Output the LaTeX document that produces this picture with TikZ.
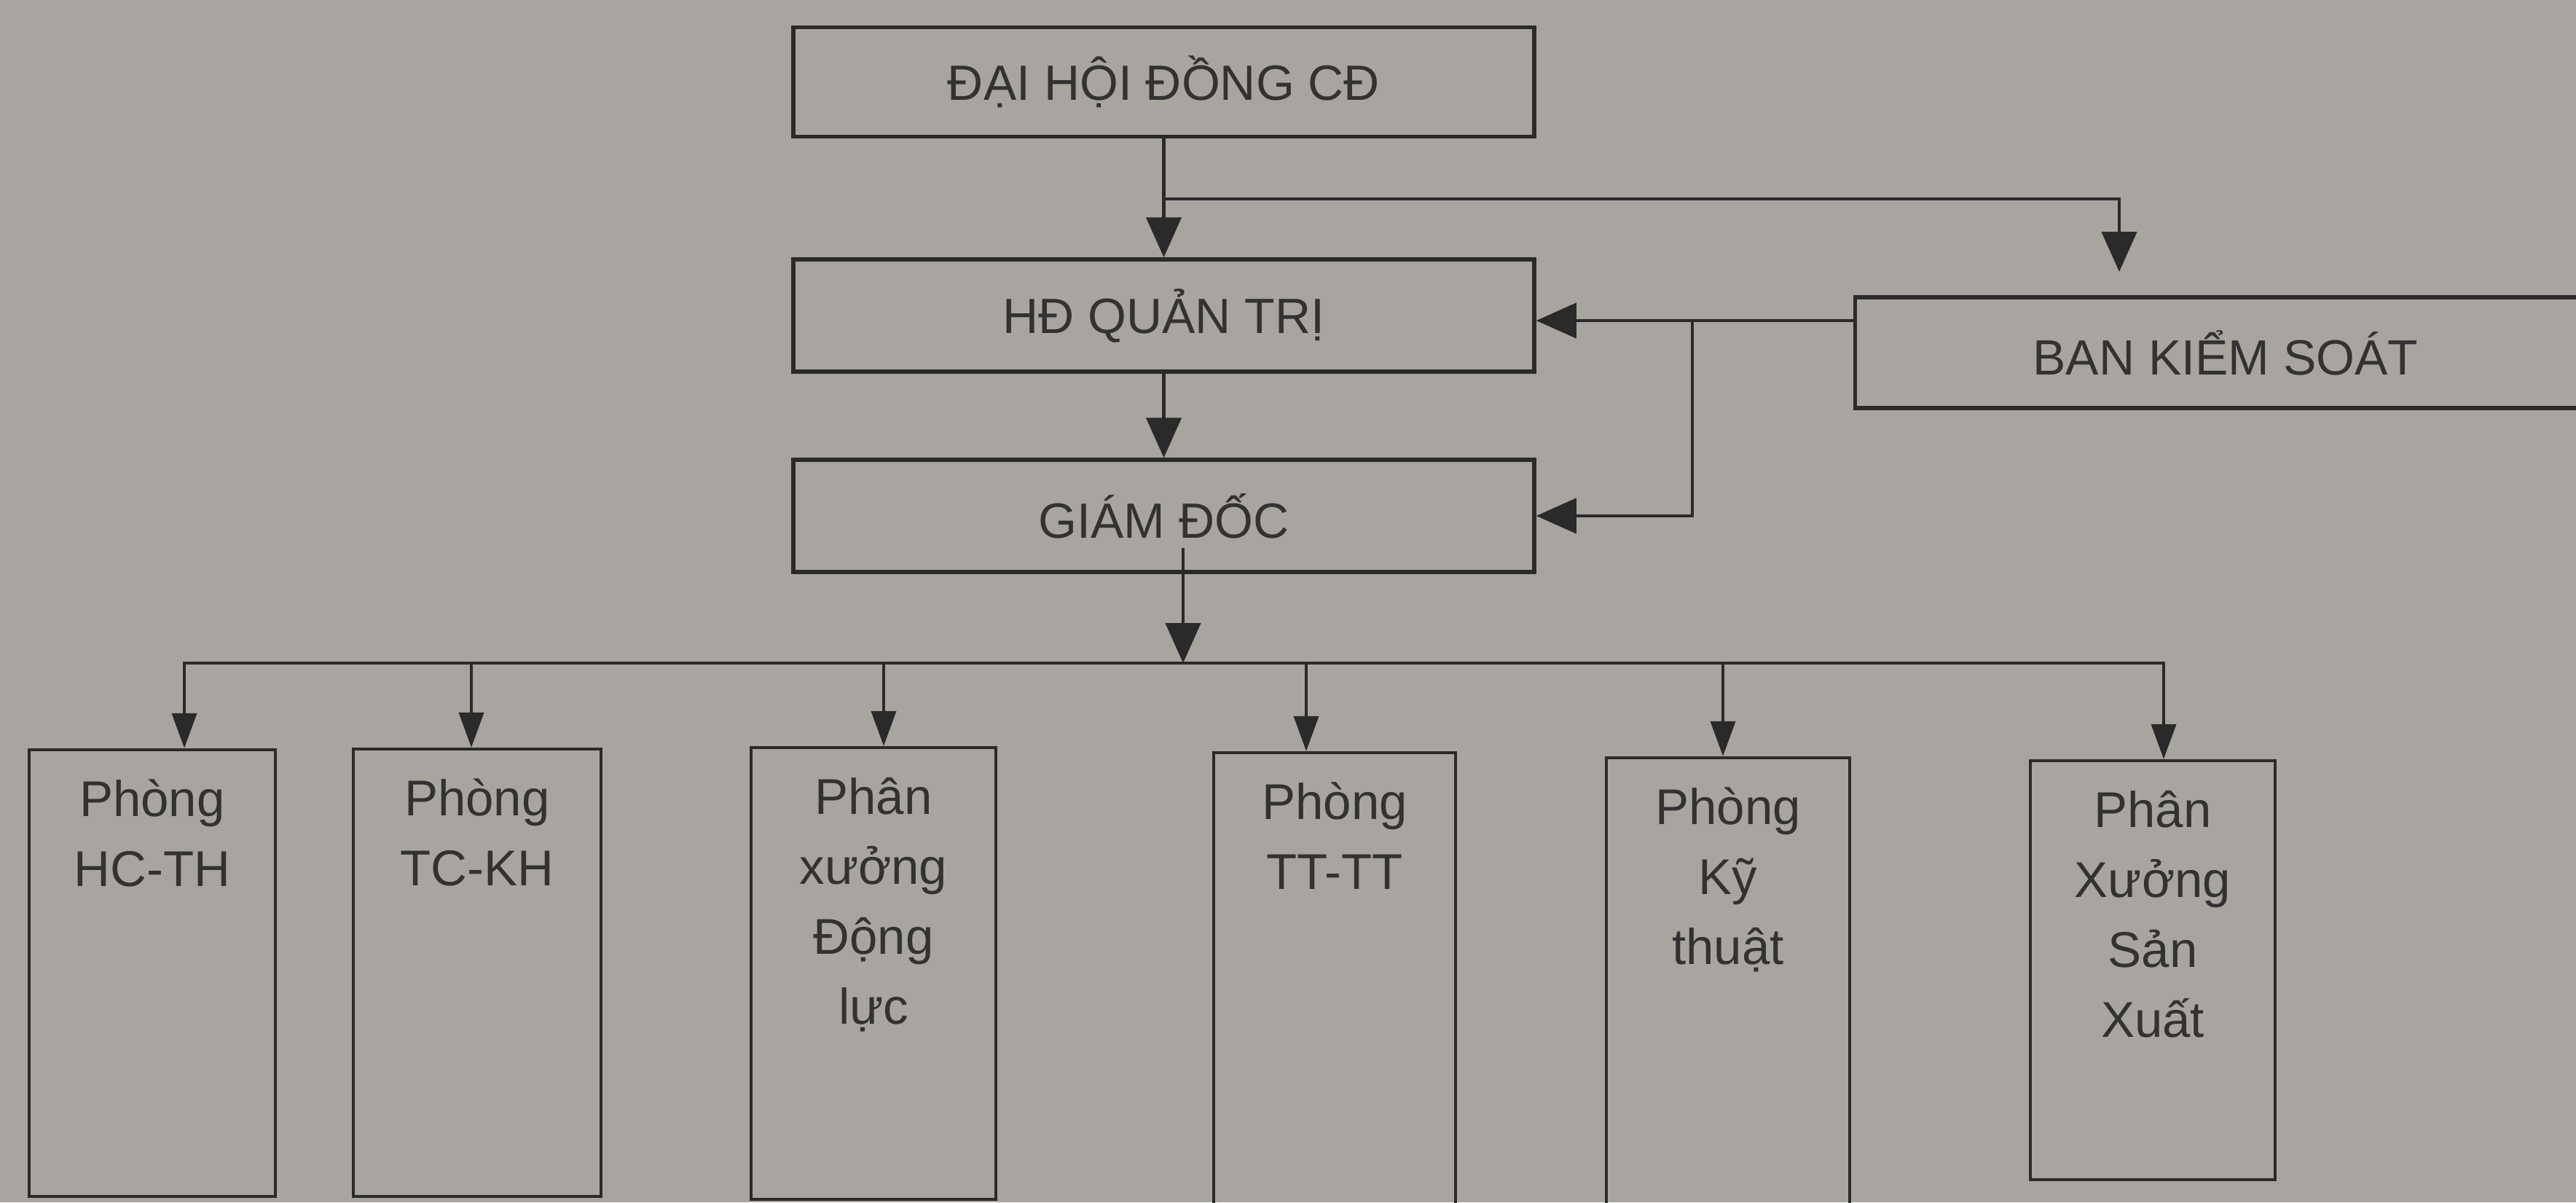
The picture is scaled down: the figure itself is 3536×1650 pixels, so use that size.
\documentclass[tikz,border=0pt]{standalone}
\usepackage{fontspec}
\setmainfont{Liberation Sans}
\usetikzlibrary{arrows.meta}
\definecolor{paper}{RGB}{168,165,161}
\definecolor{ink}{RGB}{42,42,42}
\definecolor{txt}{RGB}{50,50,50}
\tikzset{
  topbox/.style={draw=ink, line width=5.5pt, minimum width=1017pt, minimum height=150pt,
    inner sep=0pt, text=txt, font=\fontsize{68}{80}\selectfont},
  dbox/.style={draw=ink, line width=4.5pt, inner sep=0pt},
  dtext/.style={anchor=north, inner sep=0pt, align=center, text=txt,
    font=\fontsize{69}{96}\selectfont},
  arr/.style={draw=ink, line width=4.5pt, -{Triangle[length=55pt,width=48pt]}},
  darr/.style={draw=ink, line width=4pt, -{Triangle[length=48pt,width=34pt]}},
  ln/.style={draw=ink, line width=4.5pt},
}
\begin{document}
\begin{tikzpicture}[x=1pt,y=-1pt]
\useasboundingbox[fill=paper] (0,0) rectangle (3536,1650);
\clip (0,0) rectangle (3536,1650);

% top boxes
\node[topbox] (dh)  at (1597.5,112.5) {ĐẠI HỘI ĐỒNG CĐ};
\node[topbox, minimum height=154pt] (hd)  at (1597.5,433) {HĐ QUẢN TRỊ};
\node[topbox, minimum height=154pt] (gd)  at (1597.5,708) {GIÁM ĐỐC};
\node[topbox, minimum height=152pt] (bks) at (3055,484) {BAN KIỂM SOÁT};

% department boxes
\node[dbox, minimum width=338pt, minimum height=613pt] (b1) at (209,1335.5) {};
\node[dbox, minimum width=340pt, minimum height=614pt] (b2) at (655,1335) {};
\node[dbox, minimum width=336pt, minimum height=620pt] (b3) at (1199,1336) {};
\node[dbox, minimum width=332pt, minimum height=632pt] (b4) at (1832,1349) {};
\node[dbox, minimum width=334pt, minimum height=625pt] (b5) at (2372,1352.5) {};
\node[dbox, minimum width=336pt, minimum height=575pt] (b6) at (2955,1331.5) {};

\node[dtext] (t1) at ([yshift=-43pt]b1.north) {Phòng\\HC-TH};
\node[dtext] (t2) at ([yshift=-43pt]b2.north) {Phòng\\TC-KH};
\node[dtext] (t3) at ([yshift=-43pt]b3.north) {Phân\\xưởng\\Động\\lực};
\node[dtext] (t4) at ([yshift=-43pt]b4.north) {Phòng\\TT-TT};
\node[dtext] (t5) at ([yshift=-43pt]b5.north) {Phòng\\Kỹ\\thuật};
\node[dtext] (t6) at ([yshift=-43pt]b6.north) {Phân\\Xưởng\\Sản\\Xuất};

% connectors top
\draw[arr] (dh.south) -- (hd.north);
\coordinate (j1) at (1597.5,273);
\coordinate (k1) at (2909,373);
\draw[arr] (j1) -| (k1);
\coordinate (h1) at ([yshift=-7pt]hd.east);
\draw[arr] (bks.west |- h1) -- (h1);
\coordinate (j2) at (2323,440);
\draw[arr] (j2) |- (gd.east);
\draw[arr] (hd.south) -- (gd.north);

% director to bus
\coordinate (g0) at (1624,752);
\coordinate (g1) at (1624,910);
\draw[arr] (g0) -- (g1);

% bus
\coordinate (d1) at (253,910);
\coordinate (d2) at (647,910);
\coordinate (d3) at (1213,910);
\coordinate (d4) at (1793,910);
\coordinate (d5) at (2365,910);
\coordinate (d6) at (2970,910);
\draw[ln, line cap=rect] (d1) -- (d6);
\draw[darr] (d1) -- (d1 |- b1.north);
\draw[darr] (d2) -- (d2 |- b2.north);
\draw[darr] (d3) -- (d3 |- b3.north);
\draw[darr] (d4) -- (d4 |- b4.north);
\draw[darr] (d5) -- (d5 |- b5.north);
\draw[darr] (d6) -- (d6 |- b6.north);
\end{tikzpicture}
\end{document}
